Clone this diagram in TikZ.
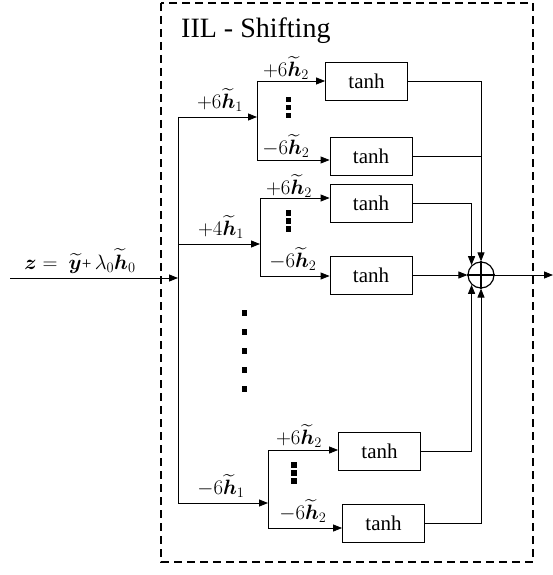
\documentclass[tikz,border=0pt]{standalone}
\usepackage{amsmath,bm}
\usepackage{fontspec}
\setmainfont{Liberation Serif}
\usetikzlibrary{arrows.meta}
\begin{document}
\begin{tikzpicture}[x=1pt,y=-1pt,
  conn/.style={line width=0.8pt},
  arr/.style={conn,-{Triangle[length=9pt,width=7pt]}},
  tbox/.style={draw,line width=0.8pt,minimum width=82pt,minimum height=38pt,inner sep=0pt,font=\fontsize{21}{24}\selectfont},
  lbl/.style={font=\fontsize{21}{24}\selectfont,inner sep=0pt},
  sq/.style={fill=black}]
\useasboundingbox (0,0) rectangle (553,575);
% dashed frame
\draw[line width=2.5pt,dash pattern=on 8pt off 5pt] (161,3) rectangle (533,562);
\node[font=\fontsize{28}{32}\selectfont,anchor=west,inner sep=0pt] (title) at (181,31) {IIL - Shifting};
% boxes
\node[tbox] (b1) at (366.5,81) {tanh};
\node[tbox] (b2) at (371,156.5) {tanh};
\node[tbox] (b3) at (371,203.5) {tanh};
\node[tbox] (b4) at (371,275) {tanh};
\node[tbox] (b5) at (379.5,451) {tanh};
\node[tbox] (b6) at (383.5,523) {tanh};
% sum
\node[circle,draw,line width=1.2pt,minimum size=26pt,inner sep=0pt] (sum) at (481,275) {};
\draw[line width=1.2pt] (sum.north) -- (sum.south) (sum.west) -- (sum.east);
% coordinates
\coordinate (in) at (10,278);
\coordinate (bus) at (178,278);
\coordinate (p1) at (178,117);
\coordinate (p2) at (178,244);
\coordinate (p3) at (178,503);
\coordinate (q1) at (257,117);
\coordinate (q1t) at (257,81);
\coordinate (q1b) at (257,160);
\coordinate (q2) at (260,244);
\coordinate (q2t) at (260,198);
\coordinate (q2b) at (260,276);
\coordinate (q3) at (268,503);
\coordinate (q3t) at (268,450);
\coordinate (q3b) at (268,528);
\coordinate (out) at (553,275);
% input
\draw[arr] (in) -- (bus);
\node[font=\fontsize{22}{26}\selectfont,inner sep=0pt] (zl) at (80,261) {$\bm z =\ \widetilde{\bm y}${\fontsize{17}{20}\selectfont +}$\,\lambda_0\widetilde{\bm h}_0$};
\draw[conn] (p1) -- (p3);
% branches
\draw[arr] (p1) -- (q1);
\draw[arr] (p2) -- (q2);
\draw[arr] (p3) -- (q3);
\draw[conn] (q1t) -- (q1b);
\draw[conn] (q2t) -- (q2b);
\draw[conn] (q3t) -- (q3b);
\draw[arr] (q1t) -- (q1t -| b1.west);
\draw[arr] (q1b) -- (q1b -| b2.west);
\draw[arr] (q2t) -- (q2t -| b3.west);
\draw[arr] (q2b) -- (q2b -| b4.west);
\draw[arr] (q3t) -- (q3t -| b5.west);
\draw[arr] (q3b) -- (q3b -| b6.west);
% labels
\node[lbl] (l1) at (220,100) {$+6\widetilde{\bm h}_1$};
\node[lbl] (l2) at (221,227) {$+4\widetilde{\bm h}_1$};
\node[lbl] (l3) at (221,486) {$-6\widetilde{\bm h}_1$};
\node[lbl] (l11) at (286,68) {$+6\widetilde{\bm h}_2$};
\node[lbl] (l12) at (286,146) {$-6\widetilde{\bm h}_2$};
\node[lbl] (l21) at (289,186) {$+6\widetilde{\bm h}_2$};
\node[lbl] (l22) at (293,259) {$-6\widetilde{\bm h}_2$};
\node[lbl] (l31) at (299,436) {$+6\widetilde{\bm h}_2$};
\node[lbl] (l32) at (303,511) {$-6\widetilde{\bm h}_2$};
% outputs
\draw[arr] (b1.east) -| (sum.north);
\draw[conn] (b2.east) -- (b2.east -| sum.north);
\draw[arr] (b3.east) -| (sum.134);
\draw[arr] (b4.east) -- (sum.west);
\draw[arr] (b5.east) -| (sum.226);
\draw[arr] (b6.east) -| (sum.south);
\draw[arr] (sum.east) -- (out);
% dots
\foreach \y in {97,105,113} \fill (285.5,\y) rectangle +(5.5,5.5);
\foreach \y in {210,218,226} \fill (285.5,\y) rectangle +(5.5,5.5);
\foreach \y in {462,470,478} \fill (291,\y) rectangle +(5.5,5.5);
\foreach \y in {310,329,348,367,386} \fill (241.5,\y) rectangle +(5.5,5.5);
\end{tikzpicture}
\end{document}
